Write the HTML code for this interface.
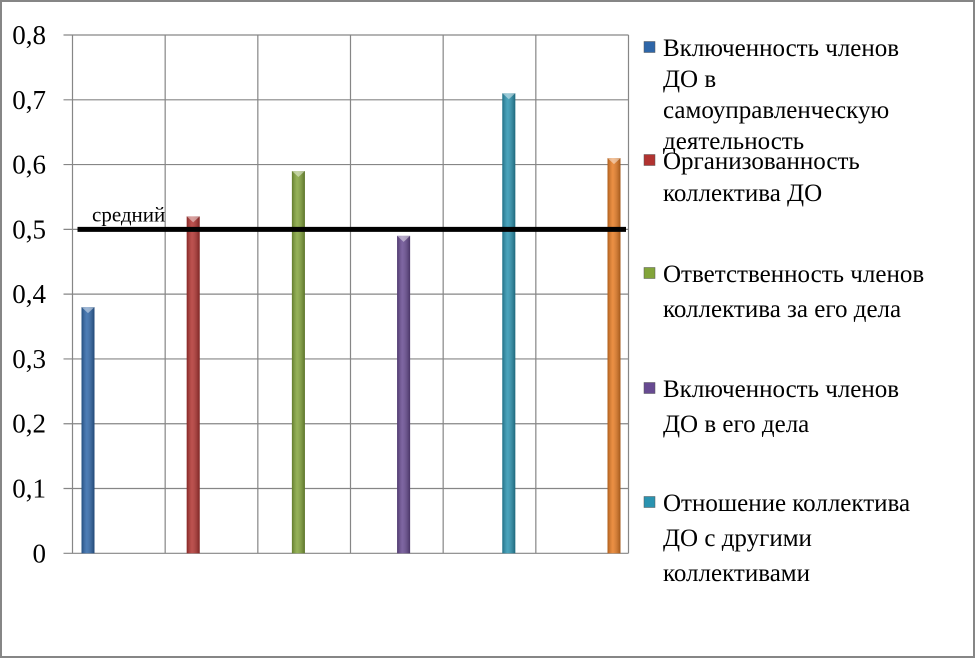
<!DOCTYPE html>
<html><head><meta charset="utf-8"><style>
html,body{margin:0;padding:0;background:#fff}
svg{display:block}
svg text{font-family:"Liberation Serif","Times New Roman","DejaVu Serif",serif;fill:#000}
</style></head><body>
<svg id="chart" width="976" height="659" viewBox="0 0 976 659" xmlns="http://www.w3.org/2000/svg">
<defs>
<linearGradient id="sh" x1="0" x2="1" y1="0" y2="0">
<stop offset="0" stop-color="#000" stop-opacity="0.25"/><stop offset="0.4" stop-color="#fff" stop-opacity="0.15"/><stop offset="1" stop-color="#000" stop-opacity="0.3"/>
</linearGradient>
</defs>
<rect x="1" y="1" width="973" height="656" fill="#fff" stroke="#868686" stroke-width="2"/>
<g id="grid"></g>
<g id="bars"></g>
<g id="legend"></g>
</svg>
<script>
const categories = ["Включенность членов ДО в самоуправленческую деятельность","Организованность коллектива ДО","Ответственность членов коллектива за его дела","Включенность членов ДО в его дела","Отношение коллектива ДО с другими коллективами","Коллектив 6"];
const values = [0.38, 0.52, 0.59, 0.49, 0.71, 0.61];
const colors = ["#2e66a8","#b13330","#82a43a","#674a91","#2a93b0","#e77b22"];
const yTicks = [0, 0.1, 0.2, 0.3, 0.4, 0.5, 0.6, 0.7, 0.8];
const yTickLabels = ["0","0,1","0,2","0,3","0,4","0,5","0,6","0,7","0,8"];
const averageValue = 0.5;
const averageLabel = ["средний"];
const legendLines = [
  ["Включенность членов","ДО в","самоуправленческую","деятельность"],
  ["Организованность","коллектива ДО"],
  ["Ответственность членов","коллектива за его дела"],
  ["Включенность членов","ДО в его дела"],
  ["Отношение коллектива","ДО с другими","коллективами"]
];

const NS="http://www.w3.org/2000/svg";
const FONT='"Liberation Serif","Times New Roman","DejaVu Serif",serif';
const X0=72.5, X1=628.5, Y0=553.3, Y1=35;
const yMax=0.8;
function y(v){return Y0-(v/yMax)*(Y0-Y1);}
const band=(X1-X0)/values.length;
const barStep=(614-88)/(values.length-1);
function xc(i){return 88+barStep*i;}
function mk(tag,attrs,parent){const e=document.createElementNS(NS,tag);for(const k in attrs)e.setAttribute(k,attrs[k]);parent.appendChild(e);return e;}

const grid=document.getElementById('grid');
yTicks.forEach((t,i)=>{
  const l=mk('line',{x1:X0-9,x2:X1,y1:y(t),y2:y(t),stroke:'#868686','stroke-width':1.2},grid);
  
  
  const tx=mk('text',{x:46,y:y(t)+9,'text-anchor':'end','font-size':27,'font-family':FONT},grid);
  tx.textContent=yTickLabels[i];
  
  
});
for(let i=0;i<=values.length;i++){
  const xx=X0+band*i;
  const l=mk('line',{x1:xx,x2:xx,y1:Y1,y2:Y0,stroke:'#868686','stroke-width':1.2},grid);
  
  
}

const bars=document.getElementById('bars');
values.forEach((v,i)=>{
  const cx=xc(i), w=13;
  const r=mk('rect',{x:cx-w/2,y:y(v),width:w,height:Y0-y(v),fill:colors[i]},bars);
  
  
  const s=mk('rect',{x:cx-w/2,y:y(v),width:w,height:Y0-y(v),fill:'url(#sh)'},bars);
  
  
  const tp=mk('polygon',{points:`${cx-w/2},${y(v)} ${cx+w/2},${y(v)} ${cx},${y(v)+6}`,fill:'#fff','fill-opacity':0.45},bars);
  
  
});

const avg=mk('line',{x1:77.5,x2:626,y1:y(averageValue),y2:y(averageValue),stroke:'#000','stroke-width':5},bars);


const at=mk('text',{x:92,y:y(averageValue)-8,'font-size':21,'font-family':FONT},bars);
at.textContent=averageLabel[0];



const legend=document.getElementById('legend');
const entryTops=[47,160,273,388,502];
const lineH=[31,32,35,35,35];
legendLines.forEach((lines,i)=>{
  const m=mk('rect',{x:644,y:entryTops[i]-5.5,width:11,height:11,fill:colors[i],stroke:'#555','stroke-width':0.5},legend);
  
  
  lines.forEach((ln,j)=>{
    const t=mk('text',{x:663,y:entryTops[i]+j*lineH[i]+9,'font-size':25,'font-family':FONT},legend);
    t.textContent=ln;
    
    
  });
});
</script>
</body></html>
